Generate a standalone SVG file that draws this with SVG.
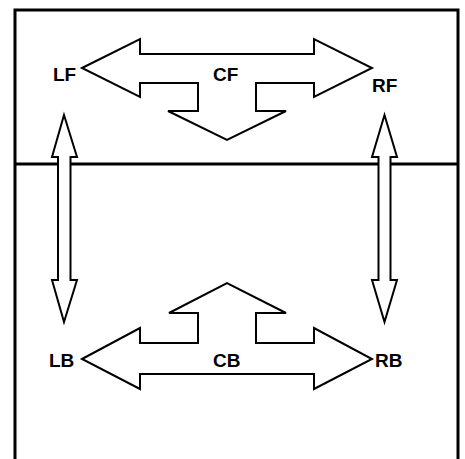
<svg xmlns="http://www.w3.org/2000/svg" width="465" height="459" viewBox="0 0 465 459">
  <style>
    .frame { fill: none; stroke: #000; stroke-width: 3; }
    .arrow { fill: #fff; stroke: #000; stroke-width: 2; stroke-linejoin: miter; }
    .lbl { font-family: "Liberation Sans", Arial, sans-serif; font-weight: bold; font-size: 19px; fill: #000; }
  </style>
  <rect width="465" height="459" fill="#fff"/>
  <g id="frame">
    <rect class="frame" x="15" y="10" width="443" height="470"/>
    <line class="frame" x1="15" y1="164" x2="458" y2="164"/>
  </g>
  <g id="connectors">
    <polygon class="arrow" points="64,115 77,157 70.5,157 70.5,280 77,280 64,322 52,280 58,280 58,157 52,157"/>
    <polygon class="arrow" points="384.5,115 397,157 390.5,157 390.5,280 397,280 384.5,322 372,280 378.5,280 378.5,157 372,157"/>
  </g>
  <g id="CF">
    <polygon class="arrow" points="82,68 140,39 140,54 314,54 314,39 372,68 314,97 314,83 256,83 256,111 286,111 227,140 168,111 198,111 198,83 140,83 140,97"/>
    <text class="lbl" x="213" y="81">CF</text>
  </g>
  <g id="CB">
    <polygon class="arrow" points="82,359 140,328 140,343 198,343 198,313 169,313 227,283 286,313 256,313 256,343 314,343 314,328 372,359 314,389 314,374 140,374 140,389"/>
    <text class="lbl" x="213" y="367">CB</text>
  </g>
  <g id="LF"><text class="lbl" x="53" y="81">LF</text></g>
  <g id="RF"><text class="lbl" x="372" y="92">RF</text></g>
  <g id="LB"><text class="lbl" x="49" y="367">LB</text></g>
  <g id="RB"><text class="lbl" x="375" y="367">RB</text></g>
</svg>
